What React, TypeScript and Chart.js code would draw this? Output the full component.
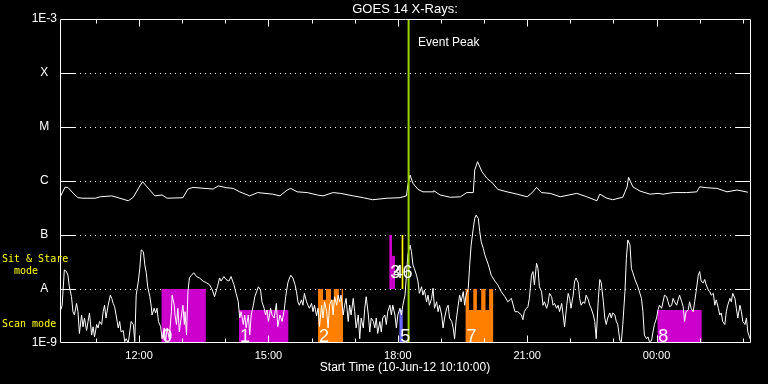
import { useEffect, useRef } from 'react';
import { Chart, registerables } from 'chart.js';

Chart.register(...registerables);

// ---------- text ----------
const TITLE = 'GOES 14 X-Rays:';
const X_TITLE = 'Start Time (10-Jun-12 10:10:00)';
const EVENT_TEXT = 'Event Peak';
const SIT_TEXT = ['Sit & Stare', '  mode'];
const SCAN_TEXT = 'Scan mode';

// ---------- axes (time in minutes after 10:10:00) ----------
const timeMin = 0;
const timeMax = 960;
const hourMarks = [50, 110, 170, 230, 290, 350, 410, 470, 530, 590, 650, 710, 770, 830, 890, 950];
const tickMinutes = [110, 290, 470, 650, 830];
const tickLabels = ['12:00', '15:00', '18:00', '21:00', '00:00'];
const decadeValues = [1e-9, 1e-8, 1e-7, 1e-6, 1e-5, 1e-4, 1e-3];
const decadeLabels = ['1E-9', 'A', 'B', 'C', 'M', 'X', '1E-3'];
const gridLevels = [1e-8, 1e-7, 1e-6, 1e-5, 1e-4];

// ---------- event ----------
const eventPeakMinute = 485;

// ---------- GOES long channel (1-8 A), W/m^2 ----------
const longTimes = [1, 7, 11, 18, 25, 32, 49, 56, 72, 81, 95, 102, 111, 115, 121, 132, 142, 149, 171, 178, 185, 213, 220, 232, 241, 250, 264, 275, 296, 306, 316, 321, 330, 344, 358, 366, 380, 390, 408, 422, 435, 455, 473, 482, 484, 487, 491, 498, 505, 519, 520, 529, 543, 557, 566, 575, 577, 581, 587, 594, 602, 609, 622, 636, 650, 657, 663, 670, 682, 696, 719, 733, 747, 751, 761, 769, 783, 789, 791, 797, 807, 821, 832, 839, 853, 872, 886, 890, 900, 914, 928, 942, 957];
const longFlux = [5.3e-7, 7.7e-7, 7.6e-7, 6.0e-7, 4.9e-7, 4.8e-7, 4.8e-7, 5.1e-7, 5.3e-7, 4.9e-7, 4.3e-7, 5.0e-7, 8.1e-7, 9.7e-7, 7.8e-7, 5.3e-7, 5.5e-7, 4.8e-7, 4.9e-7, 7.1e-7, 7.6e-7, 7.1e-7, 8.1e-7, 7.5e-7, 7.3e-7, 6.3e-7, 5.3e-7, 6.1e-7, 5.7e-7, 5.3e-7, 6.8e-7, 7.3e-7, 6.3e-7, 6.1e-7, 5.5e-7, 5.3e-7, 6.1e-7, 5.9e-7, 5.3e-7, 4.9e-7, 4.5e-7, 4.8e-7, 4.9e-7, 5.3e-7, 8.4e-7, 1.29e-6, 9.1e-7, 7.0e-7, 6.3e-7, 6.3e-7, 6.6e-7, 5.5e-7, 5.0e-7, 5.1e-7, 6.1e-7, 6.1e-7, 1.6e-6, 2.28e-6, 1.49e-6, 1.12e-6, 9.1e-7, 7.0e-7, 6.3e-7, 5.7e-7, 5.1e-7, 6.1e-7, 7.6e-7, 6.1e-7, 5.9e-7, 5.1e-7, 5.9e-7, 5.1e-7, 4.3e-7, 5.7e-7, 4.8e-7, 4.5e-7, 5.0e-7, 7.8e-7, 1.17e-6, 7.8e-7, 6.5e-7, 5.7e-7, 5.9e-7, 5.7e-7, 6.1e-7, 6.1e-7, 6.3e-7, 7.8e-7, 7.5e-7, 7.3e-7, 6.3e-7, 6.8e-7, 6.2e-7];

// ---------- GOES short channel (0.5-4 A), [minute, W/m^2] ----------
const shortChannel: [number, number][] = [
  [1, 4.1e-9], [3, 5.0e-9], [6, 2.25e-8], [9, 2.1e-8], [11, 1.8e-8], [13, 1.1e-8], [16, 7.2e-9], [18, 3.8e-9], [20, 3.3e-9], [23, 5.4e-9],
  [25, 3.8e-9], [27, 1.5e-9], [30, 3.3e-9], [32, 2.0e-9], [34, 2.9e-9], [37, 1.7e-9], [39, 2.5e-9], [41, 3.6e-9], [44, 1.4e-9], [46, 2.0e-9],
  [48, 1.3e-9], [51, 2.2e-9], [53, 1.9e-9], [55, 2.5e-9], [58, 2.2e-9], [60, 3.8e-9], [62, 5.0e-9], [64, 2.9e-9], [67, 5.0e-9], [70, 7.7e-9],
  [72, 6.7e-9], [74, 5.4e-9], [76, 4.7e-9], [78, 3.3e-9], [81, 1.9e-9], [83, 2.5e-9], [85, 1.6e-9], [88, 1.7e-9], [90, 1.06e-9], [92, 1.2e-9],
  [95, 1.0e-9], [99, 2.5e-9], [102, 2.2e-9], [104, 1.06e-9], [106, 7.7e-9], [109, 1.4e-8], [111, 2.4e-8], [113, 5.3e-8], [116, 4.9e-8], [118, 2.8e-8],
  [120, 2.0e-8], [122, 1.1e-8], [125, 7.2e-9], [127, 4.7e-9], [128, 3.3e-9], [131, 4.4e-9], [133, 3.6e-9], [135, 4.4e-9], [137, 2.5e-9], [140, 2.0e-9],
  [142, 1.2e-9], [145, 1.9e-9], [147, 1.06e-9], [149, 1.9e-9], [152, 1.2e-9], [155, 3.8e-9], [156, 7.7e-9], [159, 5.0e-9], [160, 3.3e-9], [162, 2.2e-9],
  [164, 4.4e-9], [166, 1.6e-9], [169, 3.3e-9], [171, 5.0e-9], [173, 2.2e-9], [174, 3.8e-9], [176, 1.4e-9], [178, 8.9e-9], [180, 1.6e-8], [183, 1.8e-8],
  [186, 2.0e-8], [190, 1.7e-8], [194, 1.6e-8], [199, 1.4e-8], [204, 1.3e-8], [208, 1.2e-8], [212, 9.6e-9], [215, 7.2e-9], [219, 1.1e-8], [222, 1.6e-8],
  [224, 1.4e-8], [228, 1.7e-8], [231, 1.5e-8], [235, 1.4e-8], [238, 1.7e-8], [242, 1.2e-8], [245, 8.3e-9], [248, 5.8e-9], [250, 2.9e-9], [252, 3.8e-9],
  [255, 2.2e-9], [257, 3.3e-9], [259, 1.9e-9], [262, 3.3e-9], [264, 1.4e-9], [266, 3.3e-9], [269, 5.0e-9], [271, 7.2e-9], [276, 1.1e-8], [279, 9.6e-9],
  [281, 5.8e-9], [284, 4.4e-9], [286, 3.3e-9], [288, 4.1e-9], [290, 2.5e-9], [293, 4.4e-9], [295, 3.3e-9], [298, 2.9e-9], [301, 5.4e-9], [303, 2.0e-9],
  [306, 3.3e-9], [309, 2.5e-9], [312, 4.1e-9], [314, 7.2e-9], [317, 1.3e-8], [320, 1.7e-8], [321, 1.8e-8], [324, 1.6e-8], [327, 1.2e-8], [329, 8.9e-9],
  [331, 5.8e-9], [333, 5.0e-9], [336, 6.3e-9], [338, 5.0e-9], [340, 8.3e-9], [343, 5.8e-9], [345, 5.0e-9], [347, 4.4e-9], [350, 5.4e-9], [352, 3.8e-9],
  [354, 5.0e-9], [357, 3.2e-9], [359, 4.4e-9], [361, 2.0e-9], [364, 5.0e-9], [366, 2.9e-9], [368, 5.8e-9], [371, 3.8e-9], [373, 1.9e-9], [375, 5.0e-9],
  [378, 6.3e-9], [380, 3.3e-9], [382, 7.2e-9], [385, 5.0e-9], [387, 7.7e-9], [389, 5.8e-9], [391, 7.7e-9], [394, 3.3e-9], [396, 5.0e-9], [398, 6.7e-9],
  [401, 2.5e-9], [403, 5.0e-9], [405, 3.3e-9], [408, 6.7e-9], [410, 3.8e-9], [412, 1.9e-9], [415, 3.3e-9], [417, 1.2e-9], [419, 2.9e-9], [422, 1.9e-9],
  [424, 4.4e-9], [426, 7.2e-9], [429, 3.3e-9], [431, 1.6e-9], [433, 2.9e-9], [436, 2.5e-9], [438, 1.9e-9], [440, 2.9e-9], [442, 1.5e-9], [445, 2.5e-9],
  [447, 1.6e-9], [449, 2.9e-9], [452, 3.3e-9], [454, 2.2e-9], [456, 3.8e-9], [459, 5.0e-9], [461, 3.3e-9], [463, 5.0e-9], [466, 3.3e-9], [468, 1.9e-9],
  [470, 3.3e-9], [473, 4.4e-9], [475, 3.3e-9], [477, 5.0e-9], [480, 7.7e-9], [482, 1.8e-8], [484, 4.3e-8], [487, 6.5e-8], [489, 4.9e-8], [491, 2.8e-8],
  [493, 2.4e-8], [496, 1.8e-8], [498, 1.4e-8], [500, 8.3e-9], [503, 1.1e-8], [505, 7.7e-9], [507, 9.6e-9], [510, 5.8e-9], [512, 7.7e-9], [514, 5.0e-9],
  [517, 6.7e-9], [519, 1.03e-8], [521, 4.4e-9], [524, 5.8e-9], [526, 3.8e-9], [528, 5.0e-9], [531, 3.3e-9], [533, 1.9e-9], [535, 2.9e-9], [538, 4.4e-9],
  [540, 5.0e-9], [542, 2.9e-9], [545, 2.5e-9], [547, 1.9e-9], [549, 1.2e-9], [551, 2.5e-9], [554, 5.0e-9], [556, 7.7e-9], [558, 5.8e-9], [561, 8.9e-9],
  [563, 5.0e-9], [565, 7.7e-9], [568, 1.03e-8], [570, 2.8e-8], [572, 6.5e-8], [575, 1.33e-7], [577, 2.03e-7], [579, 2.34e-7], [582, 2.03e-7], [584, 1.15e-7],
  [586, 7.5e-8], [589, 5.6e-8], [591, 4.3e-8], [596, 2.8e-8], [600, 1.8e-8], [605, 1.4e-8], [609, 1.2e-8], [614, 8.9e-9], [619, 7.2e-9], [623, 5.8e-9],
  [628, 6.7e-9], [633, 3.8e-9], [637, 3.8e-9], [642, 3.3e-9], [644, 2.7e-9], [646, 3.8e-9], [649, 4.4e-9], [651, 4.7e-9], [653, 6.7e-9], [656, 1.8e-8],
  [658, 2.1e-8], [660, 1.2e-8], [663, 3.0e-8], [665, 2.4e-8], [667, 1.1e-8], [670, 8.9e-9], [672, 5.0e-9], [674, 5.8e-9], [677, 4.4e-9], [679, 5.4e-9],
  [681, 8.3e-9], [684, 7.2e-9], [686, 5.0e-9], [688, 5.4e-9], [691, 4.4e-9], [693, 5.0e-9], [695, 3.8e-9], [698, 5.4e-9], [700, 3.3e-9], [702, 2.0e-9],
  [705, 5.0e-9], [707, 8.3e-9], [709, 6.7e-9], [711, 4.4e-9], [714, 7.7e-9], [716, 1.4e-8], [718, 1.6e-8], [721, 1.3e-8], [723, 6.7e-9], [725, 5.0e-9],
  [728, 5.8e-9], [730, 5.4e-9], [732, 7.7e-9], [735, 6.3e-9], [737, 5.0e-9], [739, 4.4e-9], [742, 3.3e-9], [744, 2.5e-9], [746, 1.2e-9], [749, 6.7e-9],
  [751, 1.5e-8], [753, 1.3e-8], [756, 5.8e-9], [758, 2.9e-9], [760, 2.2e-9], [762, 2.9e-9], [765, 3.6e-9], [767, 2.9e-9], [769, 3.6e-9], [772, 3.3e-9],
  [774, 2.5e-9], [776, 2.2e-9], [779, 1.1e-9], [781, 1.06e-9], [783, 2.2e-9], [786, 8.9e-9], [788, 3.7e-8], [790, 8.1e-8], [793, 6.5e-8], [795, 2.4e-8],
  [797, 2.0e-8], [800, 1.5e-8], [804, 1.1e-8], [809, 6.7e-9], [811, 3.8e-9], [813, 1.4e-9], [816, 1.2e-9], [818, 1.3e-9], [820, 1.06e-9], [823, 1.1e-9],
  [825, 1.6e-9], [827, 2.2e-9], [830, 2.9e-9], [832, 4.1e-9], [834, 5.0e-9], [837, 4.4e-9], [839, 5.8e-9], [841, 7.7e-9], [844, 7.2e-9], [846, 5.8e-9],
  [848, 4.7e-9], [851, 5.0e-9], [853, 6.7e-9], [855, 5.8e-9], [858, 5.0e-9], [860, 6.3e-9], [862, 7.7e-9], [865, 5.8e-9], [867, 4.7e-9], [869, 2.5e-9],
  [871, 3.8e-9], [874, 4.1e-9], [876, 5.8e-9], [878, 4.4e-9], [881, 3.8e-9], [883, 5.8e-9], [885, 8.9e-9], [888, 1.8e-8], [890, 2.1e-8], [892, 1.4e-8],
  [895, 1.3e-8], [897, 1.5e-8], [899, 1.2e-8], [902, 9.6e-9], [904, 8.9e-9], [906, 7.7e-9], [909, 8.3e-9], [911, 5.0e-9], [913, 6.3e-9], [916, 4.4e-9],
  [918, 3.3e-9], [920, 3.6e-9], [922, 2.5e-9], [925, 2.2e-9], [927, 3.8e-9], [929, 5.0e-9], [932, 6.7e-9], [934, 5.8e-9], [936, 8.3e-9], [939, 6.7e-9],
  [941, 4.4e-9], [943, 2.9e-9], [946, 5.0e-9], [948, 3.8e-9], [950, 2.5e-9], [953, 2.2e-9], [955, 2.9e-9], [957, 1.6e-9], [960, 1.2e-9],
];

// ---------- observation windows ----------
const obsLabels = ['0', '1', '2', '3', '4', '5', '6', '7', '8'];
const obsMode = ['scan', 'scan', 'scan', 'sit', 'sit', 'scan', 'sit', 'scan', 'scan'];
const obsStart = [141, 249, 359, 458, 462, 472, 475, 564, 831];
const obsEnd = [203, 318, 394, 462, 466, 477, 478, 603, 893];
const obsBase = [1e-9, 1e-9, 1e-9, 1e-8, 1e-8, 1e-9, 1e-8, 1e-9, 1e-9];
const obsTop = [1e-8, 4.1e-9, 1e-8, 1e-7, 4.1e-8, 4.1e-9, 1e-7, 1e-8, 4.1e-9];
const obsRasterLow = [null, null, 6.3e-9, null, null, null, null, 4.1e-9, null];
const raster2: [number, number][] = [[359, 366], [370, 377], [381, 388], [392, 394]];
const raster7: [number, number][] = [[564, 569], [575, 580], [586, 592], [597, 603]];
const obsRasters: ([number, number][] | null)[] = [null, null, raster2, null, null, null, null, raster7, null];

// label anchor levels
const SCAN_LABEL_LEVEL = 1.04e-9;
const SIT_LABEL_LEVEL = 1.6e-8;
const sitTextLevels = [3.6e-8, 2.1e-8];
const scanTextLevel = 2.25e-9;

// ---------- styles ----------
const MAGENTA = '#cc00cc';
const ORANGE = '#ff8000';
const BLUE = '#6a6aff';
const YELLOW = '#ffff00';
const EVENT_GREEN = '#9fd000';
const obsColors = [MAGENTA, MAGENTA, ORANGE, MAGENTA, MAGENTA, BLUE, YELLOW, ORANGE, MAGENTA];
const SANS = '"Liberation Sans", Arial, sans-serif';
const MONO = '"DejaVu Sans Mono", monospace';

function obsPoints(i: number) {
  const s = obsStart[i];
  const e = obsEnd[i];
  const top = obsTop[i];
  const cols = obsRasters[i];
  const low = obsRasterLow[i] as number;
  if (!cols) return [{ x: s, y: top }, { x: e, y: top }];
  const pts: { x: number; y: number }[] = [];
  let cur = s;
  for (const [a, b] of cols) {
    if (a > cur) pts.push({ x: cur, y: low }, { x: a, y: low });
    pts.push({ x: a, y: top }, { x: b, y: top });
    cur = b;
  }
  if (cur < e) pts.push({ x: cur, y: low }, { x: e, y: low });
  return pts;
}

const framePlugin = {
  id: 'frame',
  beforeDatasetsDraw(chart: any) {
    const { ctx, chartArea: a, scales } = chart;
    const ys = scales.y;
    ctx.save();
    ctx.strokeStyle = '#ffffff';
    ctx.lineWidth = 1;
    ctx.setLineDash([1, 4]);
    for (const v of gridLevels) {
      const py = Math.round(ys.getPixelForValue(v)) + 0.5;
      ctx.beginPath();
      ctx.moveTo(a.left + 15, py);
      ctx.lineTo(a.right - 14, py);
      ctx.stroke();
    }
    ctx.restore();
  },
  afterDatasetsDraw(chart: any) {
    const { ctx, chartArea: a, scales } = chart;
    const xs = scales.x;
    const ys = scales.y;
    ctx.save();
    ctx.strokeStyle = '#ffffff';
    ctx.lineWidth = 1;
    ctx.setLineDash([]);
    ctx.beginPath();
    // y ticks (inward, both sides)
    for (const v of gridLevels) {
      const py = Math.round(ys.getPixelForValue(v)) + 0.5;
      ctx.moveTo(a.left, py);
      ctx.lineTo(a.left + 15, py);
      ctx.moveTo(a.right - 14, py);
      ctx.lineTo(a.right + 1, py);
    }
    // x ticks (inward, top and bottom)
    const bottomRow = a.bottom - 0.5;
    const topRow = a.top + 0.5;
    for (const m of hourMarks) {
      const px = Math.round(xs.getPixelForValue(m)) + 0.5;
      const len = tickMinutes.includes(m) ? 7 : 4;
      ctx.moveTo(px, bottomRow);
      ctx.lineTo(px, bottomRow - len);
      ctx.moveTo(px, topRow);
      ctx.lineTo(px, topRow + len);
    }
    ctx.stroke();
    // frame
    ctx.beginPath();
    ctx.moveTo(a.left + 0.5, topRow);
    ctx.lineTo(a.right + 0.5, topRow);
    ctx.lineTo(a.right + 0.5, bottomRow);
    ctx.lineTo(a.left + 0.5, bottomRow);
    ctx.closePath();
    ctx.stroke();
    ctx.restore();
  },
};

const annotationPlugin = {
  id: 'annotations',
  afterDatasetsDraw(chart: any) {
    const { ctx, chartArea: a, scales } = chart;
    const xs = scales.x;
    const ys = scales.y;
    ctx.save();
    ctx.fillStyle = '#ffffff';
    ctx.textAlign = 'left';
    ctx.textBaseline = 'alphabetic';
    ctx.font = `18px ${SANS}`;
    obsLabels.forEach((lab, i) => {
      const px = xs.getPixelForValue(obsStart[i]) + 1;
      const py = ys.getPixelForValue(obsMode[i] === 'sit' ? SIT_LABEL_LEVEL : SCAN_LABEL_LEVEL);
      ctx.fillText(lab, px, py);
    });
    ctx.font = `12px ${SANS}`;
    ctx.textBaseline = 'middle';
    ctx.fillText(EVENT_TEXT, xs.getPixelForValue(eventPeakMinute) + 9.5, a.top + 24);
    ctx.fillStyle = YELLOW;
    ctx.font = `10px ${MONO}`;
    ctx.fillText(SIT_TEXT[0], 2, ys.getPixelForValue(sitTextLevels[0]));
    ctx.fillText(SIT_TEXT[1], 2, ys.getPixelForValue(sitTextLevels[1]));
    ctx.fillText(SCAN_TEXT, 2, ys.getPixelForValue(scanTextLevel));
    ctx.restore();
  },
};

export default function App() {
  const ref = useRef<HTMLCanvasElement | null>(null);

  useEffect(() => {
    document.body.style.margin = '0';
    document.body.style.background = '#000';
    if (!ref.current) return;

    const barSets = obsLabels.map((lab, i) => ({
      label: `obs ${lab}`,
      data: obsPoints(i),
      borderColor: 'rgba(0,0,0,0)',
      borderWidth: 1,
      backgroundColor: obsColors[i],
      fill: { value: obsBase[i] },
      pointRadius: 0,
      tension: 0,
      order: 2,
    }));

    const chart = new Chart(ref.current, {
      type: 'line',
      data: {
        datasets: [
          {
            label: 'Event Peak',
            data: [{ x: eventPeakMinute, y: decadeValues[0] }, { x: eventPeakMinute, y: decadeValues[decadeValues.length - 1] }],
            borderColor: EVENT_GREEN,
            borderWidth: 2,
            pointRadius: 0,
            fill: false,
            order: 0,
          },
          {
            label: 'GOES 1-8 A',
            data: longTimes.map((t, i) => ({ x: t, y: longFlux[i] })),
            borderColor: '#ffffff',
            borderWidth: 1,
            pointRadius: 0,
            tension: 0,
            fill: false,
            order: 1,
          },
          {
            label: 'GOES 0.5-4 A',
            data: shortChannel.map(([t, v]) => ({ x: t, y: v })),
            borderColor: '#ffffff',
            borderWidth: 1,
            pointRadius: 0,
            tension: 0,
            fill: false,
            order: 1,
          },
          ...barSets,
        ] as any,
      },
      options: {
        animation: false,
        responsive: false,
        events: [],
        layout: { padding: { left: 0, right: 18, top: 0, bottom: 0 } },
        plugins: {
          legend: { display: false },
          tooltip: { enabled: false },
          title: {
            display: true,
            text: TITLE,
            color: '#ffffff',
            fullSize: false,
            font: { family: SANS, size: 13, weight: 'normal', lineHeight: 1 },
            padding: { top: 3, bottom: 3 },
          },
        },
        scales: {
          x: {
            type: 'linear',
            position: 'bottom',
            min: timeMin,
            max: timeMax,
            grid: { display: false, drawTicks: false },
            border: { display: false },
            afterBuildTicks: (axis: any) => {
              axis.ticks = tickMinutes.map((v) => ({ value: v }));
            },
            afterFit: (axis: any) => {
              axis.height = 41;
            },
            ticks: {
              color: '#ffffff',
              font: { family: SANS, size: 11 },
              padding: 6,
              maxRotation: 0,
              autoSkip: false,
              callback: (v: any) => {
                const i = tickMinutes.indexOf(Number(v));
                return i >= 0 ? tickLabels[i] : '';
              },
            },
            title: {
              display: true,
              text: X_TITLE,
              color: '#ffffff',
              font: { family: SANS, size: 12 },
              padding: { top: 0, bottom: 9 },
            },
          },
          y: {
            type: 'logarithmic',
            position: 'left',
            min: decadeValues[0],
            max: decadeValues[decadeValues.length - 1],
            grid: { display: false, drawTicks: false },
            border: { display: false },
            afterBuildTicks: (axis: any) => {
              axis.ticks = decadeValues.map((v) => ({ value: v }));
            },
            afterFit: (axis: any) => {
              axis.width = 60;
            },
            ticks: {
              color: '#ffffff',
              font: { family: SANS, size: 12 },
              padding: 3,
              crossAlign: 'center',
              autoSkip: false,
              callback: (v: any) => {
                const i = decadeValues.indexOf(Number(v));
                return i >= 0 ? decadeLabels[i] : '';
              },
            },
          },
        },
      } as any,
      plugins: [framePlugin, annotationPlugin],
    });

    return () => chart.destroy();
  }, []);

  return (
    <div style={{ position: 'fixed', left: 0, top: 0, width: 768, height: 384, background: '#000' }}>
      <canvas ref={ref} width={768} height={384} style={{ display: 'block', width: 768, height: 384 }} />
    </div>
  );
}
